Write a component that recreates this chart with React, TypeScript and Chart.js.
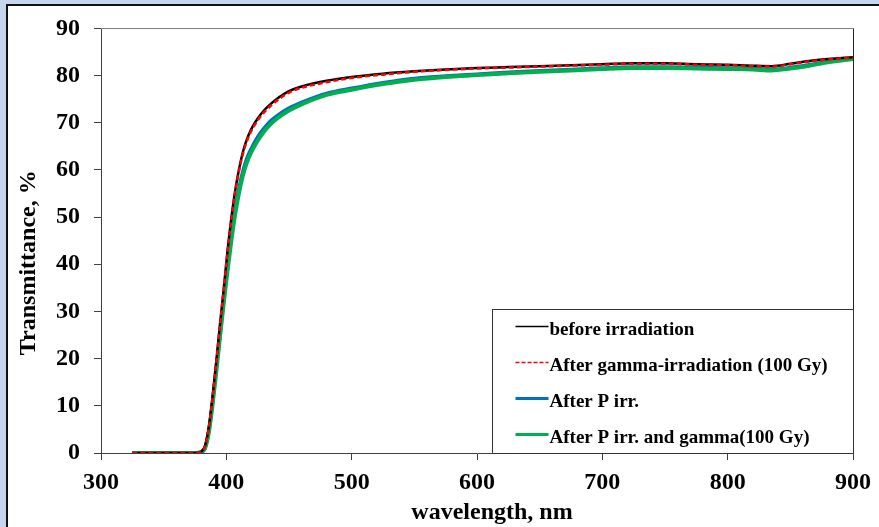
import React, { useEffect, useRef } from "react";
import { Chart, registerables } from "chart.js";

Chart.register(...registerables);

const wavelengths = [325, 340, 360, 375, 380, 383, 386, 389, 392, 395, 398, 401, 404, 407, 410, 413, 416, 420, 425, 430, 435, 440, 450, 460, 480, 500, 525, 550, 575, 600, 625, 650, 675, 700, 725, 750, 775, 800, 820, 835, 850, 865, 880, 900];

const beforeIrr = [0, 0, 0, 0, 0.3, 1.5, 5.5, 12, 19.5, 27.5, 35, 43, 49.8, 55.5, 60, 63.6, 66.2, 68.7, 70.9, 72.6, 73.9, 75, 76.7, 77.7, 78.9, 79.7, 80.4, 80.9, 81.3, 81.6, 81.8, 82.0, 82.2, 82.4, 82.6, 82.6, 82.4, 82.3, 82.1, 82.0, 82.5, 83.1, 83.5, 83.9];
const afterGamma = [0, 0, 0, 0, 0.3, 1.4, 5.3, 11.7, 19.2, 27.2, 34.7, 42.6, 49.4, 55.1, 59.6, 63.2, 65.8, 68.3, 70.5, 72.2, 73.5, 74.6, 76.4, 77.4, 78.6, 79.5, 80.2, 80.8, 81.2, 81.5, 81.7, 81.9, 82.1, 82.3, 82.5, 82.5, 82.3, 82.2, 82.0, 81.9, 82.4, 83.0, 83.4, 83.8];
const afterP = [0, 0, 0, 0, 0.2, 1.1, 4.6, 10.6, 17.7, 25.2, 32.5, 39.3, 45.8, 51.3, 56, 59.5, 62.2, 64.6, 67, 68.8, 70.3, 71.4, 73.1, 74.3, 76.2, 77.3, 78.5, 79.4, 79.9, 80.3, 80.7, 81.0, 81.3, 81.6, 81.8, 81.8, 81.7, 81.6, 81.5, 81.3, 81.7, 82.3, 83.0, 83.7];
const afterPGamma = [0, 0, 0, 0, 0.2, 1.0, 4.3, 10.2, 17.3, 24.8, 32, 38.8, 45, 50.5, 55, 58.6, 61.3, 63.8, 66.2, 68.1, 69.6, 70.8, 72.6, 73.9, 75.9, 77.0, 78.2, 79.1, 79.7, 80.1, 80.5, 80.8, 81.1, 81.4, 81.6, 81.6, 81.5, 81.4, 81.3, 81.1, 81.5, 82.1, 82.8, 83.5];

const seriesLabels = [
  "before irradiation",
  "After gamma-irradiation (100 Gy)",
  "After P irr.",
  "After P irr. and gamma(100 Gy)",
];
const xTitle = "wavelength, nm";
const yTitle = "Transmittance, %";

const FONT = '"Liberation Serif", "Times New Roman", serif';

const decorPlugin = {
  id: "decor",
  afterDraw(chart: any) {
    const ctx = chart.ctx as CanvasRenderingContext2D;
    const ca = chart.chartArea;
    ctx.save();
    // plot frame top/right
    ctx.lineWidth = 1;
    ctx.strokeStyle = "#808080";
    ctx.beginPath();
    ctx.moveTo(ca.left, Math.round(ca.top) + 0.5);
    ctx.lineTo(ca.right, Math.round(ca.top) + 0.5);
    ctx.stroke();
    ctx.strokeStyle = "#222";
    ctx.beginPath();
    ctx.moveTo(Math.round(ca.right) + 0.5, ca.top);
    ctx.lineTo(Math.round(ca.right) + 0.5, ca.bottom);
    ctx.stroke();

    // axis titles
    ctx.fillStyle = "#000";
    ctx.font = `bold 24px ${FONT}`;
    ctx.textAlign = "center";
    ctx.textBaseline = "alphabetic";
    ctx.fillText(xTitle, (ca.left + ca.right) / 2 + 15, ca.bottom + 66);
    ctx.save();
    ctx.translate(35, (ca.top + ca.bottom) / 2 + 22);
    ctx.rotate(-Math.PI / 2);
    ctx.fillText(yTitle, 0, 0);
    ctx.restore();

    // legend
    const bx = Math.round(ca.right) - 361 + 0.5;
    const by = Math.round(ca.bottom) - 144 + 0.5;
    const bw = 361;
    const bh = 144;
    ctx.fillStyle = "#fff";
    ctx.fillRect(bx, by, bw, bh);
    ctx.strokeStyle = "#333";
    ctx.lineWidth = 1;
    ctx.strokeRect(bx, by, bw, bh);
    const ds = chart.data.datasets;
    const legendWidths = [1.5, 1.3, 3, 3];
    const legendDash = [[], [4, 2], [], []];
    ds.forEach((d: any, i: number) => {
      const ly = by + 17 + i * 36;
      ctx.save();
      ctx.strokeStyle = d.borderColor;
      ctx.lineWidth = legendWidths[i];
      ctx.setLineDash(legendDash[i]);
      ctx.beginPath();
      ctx.moveTo(bx + 23, ly);
      ctx.lineTo(bx + 56, ly);
      ctx.stroke();
      ctx.restore();
      ctx.fillStyle = "#000";
      ctx.font = `bold 19px ${FONT}`;
      ctx.textAlign = "left";
      ctx.textBaseline = "alphabetic";
      ctx.fillText(d.label, bx + 57, ly + 8);
    });
    ctx.restore();
  },
};

export default function App() {
  const ref = useRef<HTMLCanvasElement | null>(null);
  useEffect(() => {
    if (!ref.current) return;
    const mk = (ys: number[]) => wavelengths.map((x, i) => ({ x, y: ys[i] }));
    const chart = new Chart(ref.current, {
      type: "line",
      data: {
        datasets: [
          { label: seriesLabels[0], data: mk(beforeIrr), borderColor: "#000000", borderWidth: 2.5, order: 1 },
          { label: seriesLabels[1], data: mk(afterGamma), borderColor: "#ff0000", borderWidth: 2.5, borderDash: [5, 3], order: 0 },
          { label: seriesLabels[2], data: mk(afterP), borderColor: "#0070c0", borderWidth: 3.5, order: 3 },
          { label: seriesLabels[3], data: mk(afterPGamma), borderColor: "#00b050", borderWidth: 4, order: 2 },
        ] as any,
      },
      options: {
        animation: false,
        responsive: false,
        devicePixelRatio: 1,
        elements: {
          point: { radius: 0, hoverRadius: 0 },
          line: { cubicInterpolationMode: "monotone", fill: false },
        },
        layout: { padding: { top: 26, right: 26, left: 0, bottom: 0 } },
        plugins: { legend: { display: false }, tooltip: { enabled: false }, title: { display: false } },
        scales: {
          x: {
            type: "linear",
            min: 300,
            max: 900,
            afterFit: (s: any) => { s.height = 74; },
            ticks: { stepSize: 100, color: "#000", font: { family: FONT, size: 24, weight: "bold" }, padding: 8, maxRotation: 0 },
            grid: { drawOnChartArea: false, drawTicks: true, tickLength: 7, color: "#404040" },
            border: { display: true, color: "#404040", width: 1 },
          },
          y: {
            type: "linear",
            min: 0,
            max: 90,
            afterFit: (s: any) => { s.width = 101; },
            ticks: { stepSize: 10, color: "#000", font: { family: FONT, size: 24, weight: "bold" }, padding: 14 },
            grid: { drawOnChartArea: false, drawTicks: true, tickLength: 7, color: "#404040" },
            border: { display: true, color: "#404040", width: 1 },
          },
        },
      } as any,
      plugins: [decorPlugin],
    });
    return () => chart.destroy();
  }, []);

  return (
    <div style={{ position: "fixed", left: 0, top: 0, width: 879, height: 527, background: "#c6d6ee", overflow: "hidden" }}>
      <div style={{ position: "absolute", left: 6, top: 4, width: 900, height: 600, background: "#fff", borderTop: "2px solid #111", borderLeft: "2px solid #111" }} />
      <canvas ref={ref} width={879} height={527} style={{ position: "absolute", left: 0, top: 0, width: 879, height: 527 }} />
    </div>
  );
}
